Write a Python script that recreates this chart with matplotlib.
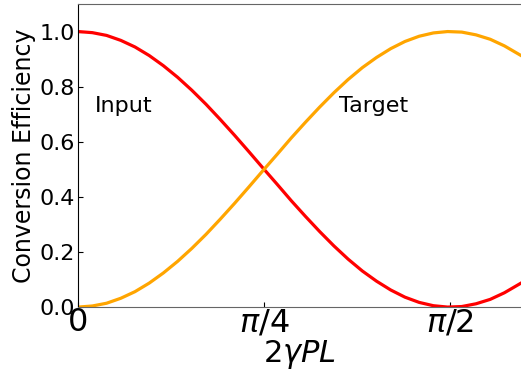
import numpy as np
import matplotlib
matplotlib.use('Agg')
import matplotlib.pyplot as plt

# phase 2*gamma*P*L (rad) and read-off efficiencies
phase = [0.00, 0.06, 0.12, 0.18, 0.24, 0.30, 0.36, 0.42, 0.48, 0.54, 0.60,
         0.66, 0.72, 0.78, 0.84, 0.90, 0.96, 1.02, 1.08, 1.14, 1.20, 1.26,
         1.32, 1.38, 1.44, 1.50, 1.56, 1.62, 1.68, 1.74, 1.80, 1.87]
input_eff = [1.000, 0.996, 0.986, 0.968, 0.944, 0.913, 0.876, 0.834, 0.787,
             0.736, 0.681, 0.624, 0.565, 0.505, 0.446, 0.386, 0.329, 0.274,
             0.222, 0.174, 0.131, 0.094, 0.062, 0.036, 0.017, 0.005, 0.000,
             0.002, 0.012, 0.028, 0.052, 0.087]
target_eff = [0.000, 0.004, 0.014, 0.032, 0.056, 0.087, 0.124, 0.166, 0.213,
              0.264, 0.319, 0.376, 0.435, 0.495, 0.554, 0.614, 0.671, 0.726,
              0.778, 0.826, 0.869, 0.906, 0.938, 0.964, 0.983, 0.995, 1.000,
              0.998, 0.988, 0.972, 0.948, 0.913]
tick_pos = [0, np.pi / 4, np.pi / 2]
tick_labels = ['0', r'$\pi/4$', r'$\pi/2$']

fig = plt.figure(figsize=(5.21, 3.81), dpi=100)
ax = fig.add_axes([0.150, 0.194, 0.850, 0.7955])

ax.plot(phase, input_eff, color='red', lw=2.3)
ax.plot(phase, target_eff, color='orange', lw=2.3)

ax.text(0.07, 0.73, 'Input', fontsize=16, va='center')
ax.text(1.10, 0.73, 'Target', fontsize=16, va='center')

ax.set_xlim(0, 1.87)
ax.set_ylim(0, 1.1)
ax.set_xticks(tick_pos)
ax.set_xticklabels(tick_labels, fontsize=23)
ax.set_yticks([0, 0.2, 0.4, 0.6, 0.8, 1.0])
ax.set_yticklabels(['0.0', '0.2', '0.4', '0.6', '0.8', '1.0'], fontsize=16)
ax.tick_params(direction='in', pad=2)
ax.tick_params(axis='x', pad=0)
ax.set_xlabel(r'$2\gamma PL$', fontsize=22, labelpad=0)
ax.set_ylabel('Conversion Efficiency', fontsize=17, labelpad=3)

ax.spines['right'].set_visible(False)
for s in ['top', 'bottom']:
    ax.spines[s].set_color('#666666')

fig.savefig('out.png', dpi=100)
